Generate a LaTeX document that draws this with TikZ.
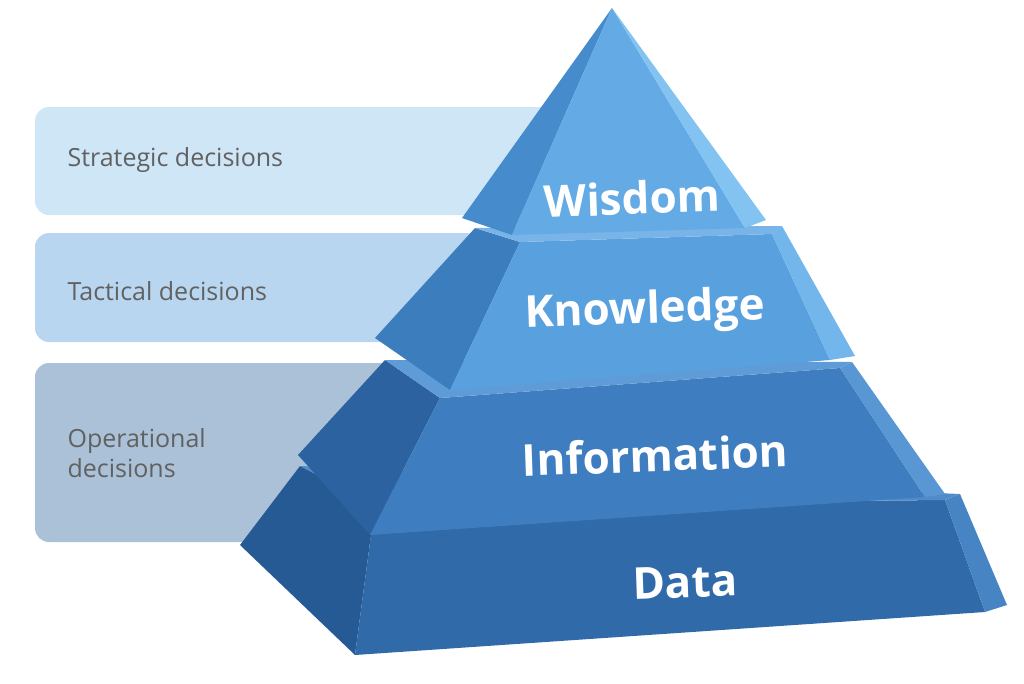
\documentclass[tikz,border=0pt]{standalone}
\usepackage{fontspec}
\setmainfont{Open Sans}
\definecolor{boxA}{RGB}{207,230,247}
\definecolor{boxB}{RGB}{185,214,240}
\definecolor{boxC}{RGB}{170,193,216}
\begin{document}
\begin{tikzpicture}[x=1pt,y=-1pt,
  sidebox/.style={rounded corners=14pt},
  sidelabel/.style={anchor=west,text=black!62,font=\fontsize{25}{30}\selectfont,align=left},
  tierlabel/.style={text=white,font=\bfseries\fontsize{44}{50}\selectfont,rotate=2}]
\useasboundingbox (0,0) rectangle (1024,683);
\fill[sidebox,fill=boxA] (35,107) rectangle (560,215);
\fill[sidebox,fill=boxB] (35,233) rectangle (480,342);
\fill[sidebox,fill=boxC] (35,363) rectangle (400,542);
\node[sidelabel] (s) at (64,160) {Strategic decisions};
\node[sidelabel] (t) at (64,291) {Tactical decisions};
\node[sidelabel] (o) at (64,453) {Operational\\decisions};
\fill[fill={rgb,255:red,38;green,90;blue,148}] (300,466) -- (240,545) -- (355,655) -- (375,505) -- cycle;
\fill[fill={rgb,255:red,48;green,106;blue,168}] (375,505) -- (355,655) -- (985,612) -- (945,500) -- cycle;
\fill[fill={rgb,255:red,70;green,132;blue,195}] (945,500) -- (985,612) -- (1007,605) -- (960,494) -- cycle;
\fill[fill={rgb,255:red,80;green,140;blue,200}] (300,466) -- (375,505) -- (945,500) -- (960,494) -- cycle;
\fill[fill={rgb,255:red,44;green,98;blue,160}] (385,360) -- (298,455) -- (370,535) -- (440,398) -- cycle;
\fill[fill={rgb,255:red,62;green,125;blue,191}] (440,398) -- (370,535) -- (925,497) -- (840,368) -- cycle;
\fill[fill={rgb,255:red,88;green,150;blue,212}] (840,368) -- (925,497) -- (945,494) -- (852,362) -- cycle;
\fill[fill={rgb,255:red,95;green,155;blue,215}] (385,360) -- (440,398) -- (840,368) -- (852,362) -- cycle;
\fill[fill={rgb,255:red,60;green,125;blue,190}] (475,228) -- (375,338) -- (450,390) -- (520,242) -- cycle;
\fill[fill={rgb,255:red,88;green,160;blue,222}] (520,242) -- (450,390) -- (830,360) -- (772,234) -- cycle;
\fill[fill={rgb,255:red,115;green,182;blue,236}] (772,234) -- (830,360) -- (855,356) -- (782,226) -- cycle;
\fill[fill={rgb,255:red,120;green,180;blue,232}] (475,228) -- (520,242) -- (772,234) -- (782,226) -- cycle;
\fill[fill={rgb,255:red,70;green,140;blue,205}] (612,8) -- (462,218) -- (512,235) -- cycle;
\fill[fill={rgb,255:red,100;green,170;blue,228}] (612,8) -- (512,235) -- (745,228) -- cycle;
\fill[fill={rgb,255:red,130;green,195;blue,242}] (612,8) -- (745,228) -- (766,220) -- cycle;
\node[tierlabel] (w) at (632,198) {Wisdom};
\node[tierlabel] (k) at (645,312) {Knowledge};
\node[tierlabel] (i) at (655,455) {Information};
\node[tierlabel] (d) at (685,582) {Data};
\end{tikzpicture}
\end{document}
